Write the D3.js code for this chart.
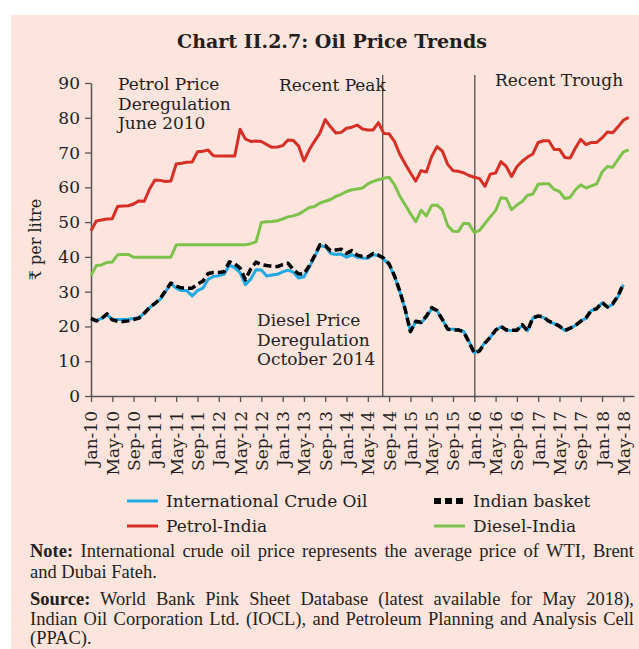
<!DOCTYPE html>
<html>
<head>
<meta charset="utf-8">
<script src="https://cdn.jsdelivr.net/npm/d3@7"></script>
<style>
  body { margin: 0; background: #fff; }
  svg { display: block; }
</style>
</head>
<body>
<div id="chart"></div>
<script>
// x-axis tick labels, one every 4 months starting Jan-10
const tickLabels = ['Jan-10', 'May-10', 'Sep-10', 'Jan-11', 'May-11', 'Sep-11', 'Jan-12', 'May-12', 'Sep-12',
  'Jan-13', 'May-13', 'Sep-13', 'Jan-14', 'May-14', 'Sep-14', 'Jan-15', 'May-15', 'Sep-15', 'Jan-16',
  'May-16', 'Sep-16', 'Jan-17', 'May-17', 'Sep-17', 'Jan-18', 'May-18'];

// monthly values, Rs per litre (Jan-10 onwards)
const crudeOil = [22.1, 21.7, 22.3, 23.3, 22.1, 22.0, 22.0, 22.1, 22.3, 22.5, 23.8, 25.4, 26.6, 27.8, 30.0, 32.3,
  31.0, 30.3, 30.3, 28.8, 30.3, 31.0, 33.5, 34.4, 34.6, 35.0, 37.6, 36.9, 35.5, 32.0, 33.6, 36.3, 36.2, 34.5,
  34.8, 35.0, 35.7, 36.2, 35.6, 33.9, 34.3, 37.0, 40.1, 43.2, 43.0, 41.0, 40.7, 40.8, 39.9, 40.6, 39.9, 39.7,
  39.6, 40.6, 40.4, 39.4, 37.7, 34.5, 30.0, 25.0, 18.6, 21.3, 21.0, 22.7, 25.1, 24.5, 22.0, 19.3, 19.2, 19.1,
  18.6, 15.7, 12.5, 13.2, 15.4, 16.9, 18.9, 19.9, 19.0, 18.8, 18.9, 20.3, 18.8, 22.4, 22.9, 22.6, 21.4, 20.8,
  20.0, 18.8, 19.4, 20.3, 21.5, 22.4, 24.6, 25.0, 26.8, 25.5, 26.4, 28.6, 32.0];

const indianBasket = [22.3, 21.6, 22.3, 23.6, 21.9, 21.5, 21.4, 21.6, 22.0, 22.4, 23.8, 25.4, 26.6, 28.0, 30.2,
  32.5, 31.6, 31.1, 31.0, 31.0, 32.2, 33.0, 35.2, 35.5, 35.5, 35.7, 38.6, 38.0, 36.8, 33.4, 36.5, 38.5, 37.8,
  37.5, 37.3, 37.2, 37.8, 38.2, 36.3, 35.1, 35.1, 37.5, 40.3, 43.5, 43.3, 41.8, 42.0, 42.2, 41.0, 41.8, 40.5,
  40.1, 40.0, 41.0, 40.5, 39.6, 38.0, 34.6, 30.2, 25.0, 18.5, 21.5, 21.2, 23.0, 25.4, 24.6, 22.0, 19.2, 19.0,
  19.0, 18.4, 15.5, 12.3, 13.0, 15.2, 16.9, 18.9, 20.0, 19.0, 18.9, 18.9, 20.5, 18.7, 22.5, 23.0, 22.8, 21.5,
  20.9, 20.1, 18.8, 19.5, 20.3, 21.5, 22.5, 24.7, 25.1, 26.9, 25.6, 26.5, 28.8, 32.2];

const petrolIndia = [47.5, 50.3, 50.6, 50.9, 51.0, 54.5, 54.6, 54.7, 55.2, 56.1, 56.0, 59.5, 62.1, 62.0, 61.7,
  61.8, 66.7, 66.9, 67.2, 67.3, 70.2, 70.4, 70.7, 69.1, 69.0, 69.0, 69.0, 69.0, 76.7, 73.9, 73.2, 73.3, 73.2,
  72.3, 71.5, 71.6, 72.0, 73.6, 73.5, 71.9, 67.6, 70.8, 73.3, 75.6, 79.5, 77.4, 75.6, 75.8, 77.0, 77.3, 77.9,
  76.8, 76.5, 76.5, 78.6, 75.5, 75.4, 73.2, 69.5, 66.8, 64.2, 61.8, 64.8, 64.4, 68.9, 71.7, 70.4, 66.6, 64.8,
  64.6, 64.2, 63.4, 62.9, 62.5, 60.3, 63.8, 64.1, 67.4, 66.0, 63.1, 65.9, 67.5, 68.7, 69.6, 72.9, 73.4, 73.4,
  70.9, 70.9, 68.6, 68.4, 71.3, 73.8, 72.3, 72.9, 72.9, 74.2, 75.9, 75.7, 77.4, 79.3, 80.1];

const dieselIndia = [34.6, 37.5, 37.7, 38.4, 38.5, 40.6, 40.7, 40.7, 39.9, 39.9, 39.9, 39.9, 39.9, 39.9, 39.9,
  39.9, 43.4, 43.5, 43.5, 43.5, 43.5, 43.5, 43.5, 43.5, 43.5, 43.5, 43.5, 43.5, 43.5, 43.5, 43.8, 44.3, 49.9,
  50.1, 50.2, 50.4, 50.9, 51.5, 51.8, 52.3, 53.2, 54.2, 54.5, 55.5, 56.0, 56.5, 57.4, 58.0, 58.8, 59.3, 59.5,
  59.8, 61.0, 61.7, 62.2, 62.6, 62.9, 60.8, 57.5, 55.0, 52.5, 50.1, 53.4, 51.8, 54.8, 54.9, 53.5, 49.0, 47.4,
  47.3, 49.7, 49.5, 47.0, 47.6, 49.6, 51.5, 53.3, 57.0, 56.8, 53.6, 54.9, 55.9, 57.7, 58.1, 60.9, 61.0, 61.0,
  59.4, 58.8, 56.8, 57.1, 59.3, 60.7, 59.8, 60.4, 61.0, 64.4, 66.0, 65.8, 68.0, 70.2, 70.8];

// vertical marker lines (month index from Jan-10)
const markerMonths = [54.8, 72.1];

const outerWidth = 639;
const outerHeight = 649;
const margin = { top: 83, right: 5, bottom: 253, left: 91 };
const serif = 'DejaVu Serif';
const textColor = '#231f20';

const svg = d3.select('#chart')
  .append('svg')
  .attr('width', outerWidth)
  .attr('height', outerHeight);

// pink panel
svg.append('rect')
  .attr('x', 11).attr('y', 15)
  .attr('width', outerWidth - 11).attr('height', outerHeight - 15)
  .attr('fill', '#fde4dd');

svg.append('text')
  .attr('x', 332).attr('y', 48)
  .attr('text-anchor', 'middle')
  .attr('font-family', serif)
  .attr('font-weight', 'bold')
  .attr('font-size', '19px')
  .attr('fill', textColor)
  .text('Chart II.2.7: Oil Price Trends');

const x = d3.scaleLinear()
  .domain([0, 102])
  .range([margin.left, outerWidth - margin.right]);

const y = d3.scaleLinear()
  .domain([0, 90])
  .range([outerHeight - margin.bottom, margin.top]);

// axes
const yAxis = svg.append('g')
  .attr('transform', `translate(${margin.left},0)`)
  .call(d3.axisLeft(y).tickValues(d3.range(0, 91, 10)).tickSize(6).tickSizeOuter(0).tickPadding(5));

const xAxis = svg.append('g')
  .attr('transform', `translate(0,${y(0)})`)
  .call(d3.axisBottom(x)
    .tickValues(d3.range(0, 101, 4))
    .tickFormat((d, i) => tickLabels[i])
    .tickSize(6)
    .tickSizeOuter(0));

[yAxis, xAxis].forEach(axis => {
  axis.select('.domain').attr('stroke', '#555').attr('stroke-width', 1.5);
  axis.selectAll('.tick line').attr('stroke', '#555').attr('stroke-width', 1.3);
  axis.selectAll('text')
    .attr('font-family', serif)
    .attr('font-size', '17px')
    .attr('fill', textColor);
});

xAxis.selectAll('.tick text')
  .attr('transform', 'rotate(-90)')
  .attr('text-anchor', 'end')
  .attr('x', -15)
  .attr('y', 0)
  .attr('dy', '0.35em');

svg.append('text')
  .attr('transform', `translate(41,${y(45)}) rotate(-90)`)
  .attr('text-anchor', 'middle')
  .attr('font-family', serif)
  .attr('font-size', '16px')
  .attr('fill', textColor)
  .text('₹ per litre');

// marker lines
svg.append('g')
  .selectAll('line')
  .data(markerMonths)
  .enter()
  .append('line')
    .attr('x1', d => x(d)).attr('x2', d => x(d))
    .attr('y1', 75).attr('y2', y(0))
    .attr('stroke', '#444')
    .attr('stroke-width', 1.2);

// series lines
const line = d3.line()
  .x((d, i) => x(i))
  .y(d => y(d));

const series = [
  { name: 'Diesel-India', values: dieselIndia, color: '#7dc24b', width: 3, dash: null },
  { name: 'Petrol-India', values: petrolIndia, color: '#d62f25', width: 3, dash: null },
  { name: 'International Crude Oil', values: crudeOil, color: '#1eaae2', width: 3, dash: null },
  { name: 'Indian basket', values: indianBasket, color: '#000', width: 3.5, dash: '8,4' }
];

svg.append('g')
  .selectAll('path')
  .data(series)
  .enter()
  .append('path')
    .attr('d', d => line(d.values))
    .attr('fill', 'none')
    .attr('stroke', d => d.color)
    .attr('stroke-width', d => d.width)
    .attr('stroke-dasharray', d => d.dash)
    .attr('stroke-linejoin', 'round');

// annotations
const notes = [
  { x: 118, y: 90, lines: ['Petrol Price', 'Deregulation', 'June 2010'] },
  { x: 279, y: 91, lines: ['Recent Peak'] },
  { x: 495, y: 86, lines: ['Recent Trough'] },
  { x: 257, y: 326, lines: ['Diesel Price', 'Deregulation', 'October 2014'] }
];

notes.forEach(n => {
  svg.append('text')
    .attr('font-family', serif)
    .attr('font-size', '17px')
    .attr('fill', textColor)
    .selectAll('tspan')
    .data(n.lines)
    .enter()
    .append('tspan')
      .attr('x', n.x)
      .attr('y', (d, i) => n.y + i * 19.5)
      .text(d => d);
});

// legend
const legendItems = [
  { name: 'International Crude Oil', color: '#1eaae2', dash: null, w: 3, x: 127, y: 501 },
  { name: 'Indian basket', color: '#000', dash: '7,4', w: 6, x: 434, y: 501 },
  { name: 'Petrol-India', color: '#d62f25', dash: null, w: 3, x: 127, y: 526 },
  { name: 'Diesel-India', color: '#7dc24b', dash: null, w: 3, x: 434, y: 526 }
];

const legend = svg.append('g')
  .selectAll('g')
  .data(legendItems)
  .enter()
  .append('g')
    .attr('transform', d => `translate(${d.x},${d.y})`);

legend.append('line')
  .attr('x1', 0).attr('x2', 31)
  .attr('stroke', d => d.color)
  .attr('stroke-width', d => d.w)
  .attr('stroke-dasharray', d => d.dash);

legend.append('text')
  .attr('x', 39)
  .attr('dy', '0.35em')
  .attr('font-family', serif)
  .attr('font-size', '17px')
  .attr('fill', textColor)
  .text(d => d.name);

// note and source; full lines justified by widening the word spaces
const footLines = [
  { bold: 'Note:', rest: ' International crude oil price represents the average price of WTI, Brent', y: 557, justify: true },
  { bold: '', rest: 'and Dubai Fateh.', y: 578, justify: false },
  { bold: 'Source:', rest: ' World Bank Pink Sheet Database (latest available for May 2018),', y: 605, justify: true },
  { bold: '', rest: 'Indian Oil Corporation Ltd. (IOCL), and Petroleum Planning and Analysis Cell', y: 625, justify: true },
  { bold: '', rest: '(PPAC).', y: 644, justify: false }
];
const footWidth = 604;

footLines.forEach(l => {
  const t = svg.append('text')
    .attr('x', 30)
    .attr('y', l.y)
    .attr('font-family', 'Liberation Serif')
    .attr('font-size', '18.5px')
    .attr('fill', textColor)
    .attr('xml:space', 'preserve');
  if (l.bold) {
    t.append('tspan').attr('font-weight', 'bold').text(l.bold);
  }
  t.append('tspan').text(l.rest);
  if (l.justify) {
    const natural = t.node().getComputedTextLength();
    const spaces = (l.bold + l.rest).split(' ').length - 1;
    t.attr('word-spacing', (footWidth - natural) / spaces);
  }
});
</script>
</body>
</html>
